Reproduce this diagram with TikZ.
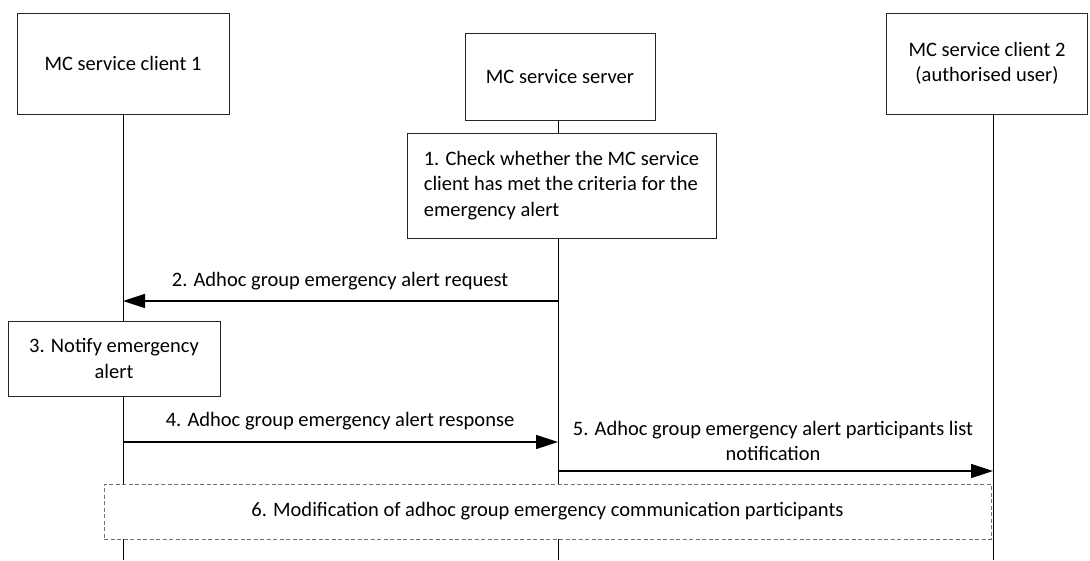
\documentclass[tikz,border=0pt]{standalone}
\usepackage{fontspec}
\setmainfont{Carlito}
\usetikzlibrary{arrows.meta}
\begin{document}
\begin{tikzpicture}[x=1pt,y=-1pt,
  every node/.style={font=\fontsize{20.5}{25.5}\selectfont, inner sep=0pt},
  box/.style={draw=black!85, line width=0.9pt, fill=white, align=center},
  life/.style={draw=black, line width=0.9pt},
  msg/.style={draw=black, line width=1.5pt, -{Triangle[length=22pt,width=14pt]}},
  lbl/.style={align=center},
  dbox/.style={draw=black!55, dashed, dash pattern=on 4pt off 2.5pt, line width=0.9pt, fill=white, align=center}]
\useasboundingbox (0,0) rectangle (1090,560);
% participants
\node[box, minimum width=212pt, minimum height=101pt] (c1) at (123,63.5) {MC service client 1};
\node[box, minimum width=190pt, minimum height=87pt] (srv) at (560,76.5) {MC service server};
\node[box, minimum width=201pt, minimum height=101pt] (c2) at (987,63.5) {MC service client 2\\(authorised user)};
% lifeline ends
\coordinate (c1e) at (123,560);
\coordinate (srve) at (558,560);
\coordinate (c2e) at (993,560);
\coordinate (c1t) at (123,114);
\coordinate (srvt) at (558,120);
\coordinate (c2t) at (993,114);
\draw[life] (c1t) -- (c1e);
\draw[life] (srvt) -- (srve);
\draw[life] (c2t) -- (c2e);
% step 1
\node[box, minimum width=309pt, minimum height=105pt, align=left] (s1) at (561.5,185.5)
  {1. Check whether the MC service\\client has met the criteria for the\\emergency alert\hspace*{6.5em}};
% step 2
\coordinate (m2s) at (558,301);
\coordinate (m2e) at (123,301);
\draw[msg] (m2s) -- (m2e);
\node[lbl] (l2) at (340,281) {2. Adhoc group emergency alert request};
% step 3
\node[box, minimum width=212pt, minimum height=75pt] (s3) at (114,358.5) {3. Notify emergency\\alert};
% step 4
\coordinate (m4s) at (123,442);
\coordinate (m4e) at (558,442);
\draw[msg] (m4s) -- (m4e);
\node[lbl] (l4) at (340,421) {4. Adhoc group emergency alert response};
% step 5
\coordinate (m5s) at (558,471);
\coordinate (m5e) at (993,471);
\draw[msg] (m5s) -- (m5e);
\node[lbl] (l5) at (773,441) {5. Adhoc group emergency alert participants list\\notification};
% step 6
\node[dbox, minimum width=887pt, minimum height=55pt] (s6) at (547.5,511.5) {6. Modification of adhoc group emergency communication participants};
\end{tikzpicture}
\end{document}
